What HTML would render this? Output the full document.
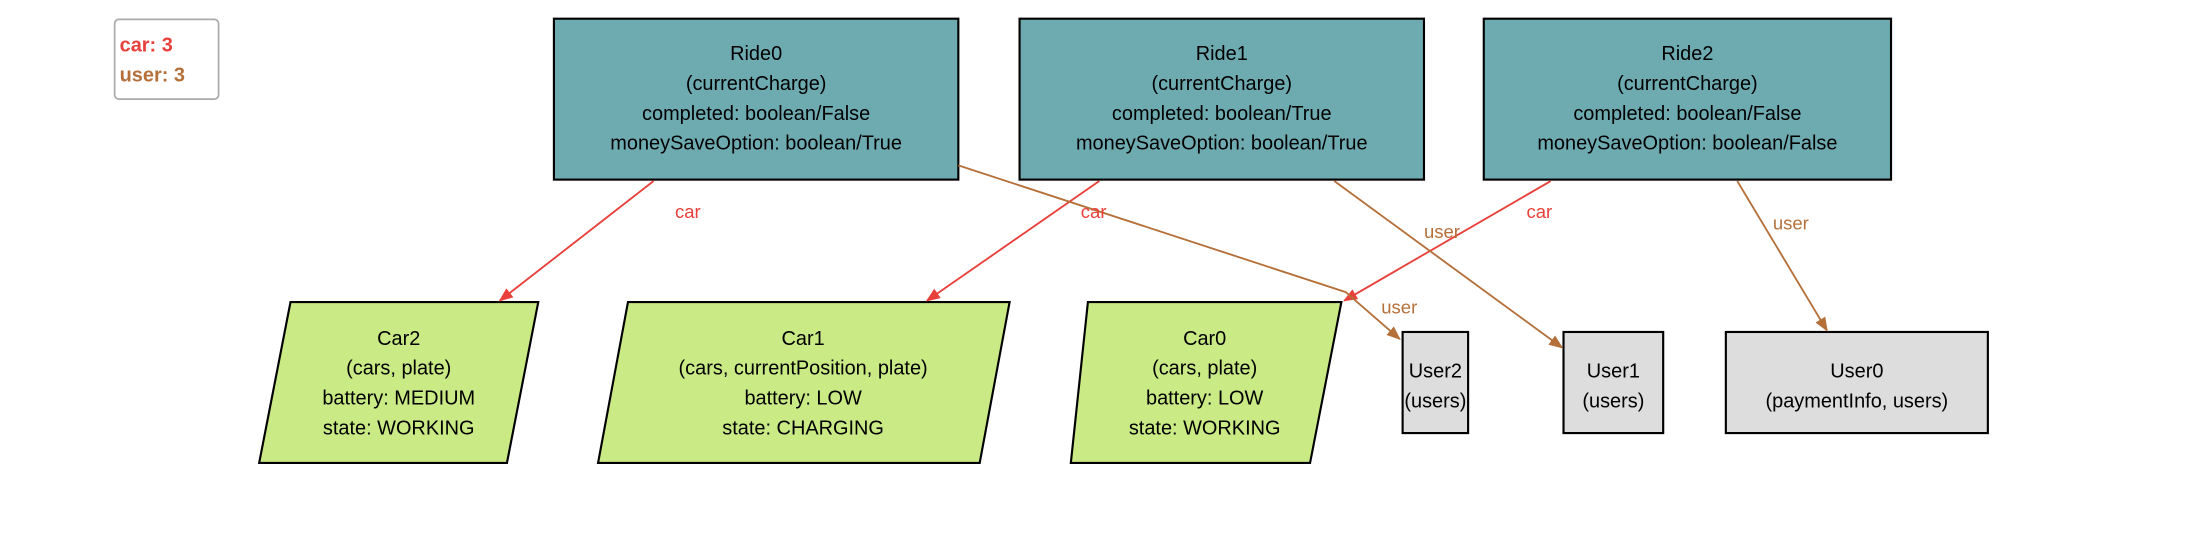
<!DOCTYPE html>
<html><head><meta charset="utf-8"><style>
html,body{margin:0;padding:0;background:#fff;}
svg{display:block;}
text{font-family:"Liberation Sans",sans-serif;font-size:14px;}
</style></head><body>
<svg width="2210" height="560" viewBox="0 0 1552 393" xmlns="http://www.w3.org/2000/svg">
<defs>
<marker id="ar" markerWidth="10" markerHeight="8" refX="9" refY="4" orient="auto" markerUnits="userSpaceOnUse"><path d="M0,0 L10,4 L0,8 z" fill="#e8403a"/></marker>
<marker id="ab" markerWidth="10" markerHeight="8" refX="9" refY="4" orient="auto" markerUnits="userSpaceOnUse"><path d="M0,0 L10,4 L0,8 z" fill="#b5703a"/></marker>
</defs>
<rect x="80.5" y="13.5" width="73" height="56" rx="3" fill="#fff" stroke="#aaa" stroke-width="1.2"/>
<text x="84" y="36" fill="#e8403a" font-weight="bold" style="font-size:14px">car: 3</text>
<text x="84" y="57" fill="#b5703a" font-weight="bold" style="font-size:14px">user: 3</text>

<g stroke="#000" stroke-width="1.5">
<rect x="389" y="13" width="284" height="113" fill="#6eabb1"/>
<rect x="716" y="13" width="284" height="113" fill="#6eabb1"/>
<rect x="1042" y="13" width="286" height="113" fill="#6eabb1"/>
<polygon points="204,212 378,212 356,325 182,325" fill="#c9ea85"/>
<polygon points="441,212 709,212 688,325 420,325" fill="#c9ea85"/>
<polygon points="764,212 942,212 920,325 752,325" fill="#c9ea85"/>
<rect x="985" y="233" width="46" height="71" fill="#dddddd"/>
<rect x="1098" y="233" width="70" height="71" fill="#dddddd"/>
<rect x="1212" y="233" width="184" height="71" fill="#dddddd"/>
</g>

<g fill="none" stroke-width="1.3">
<line x1="459" y1="127" x2="351" y2="211" stroke="#e8403a" marker-end="url(#ar)"/>
<line x1="772" y1="127" x2="651" y2="211" stroke="#e8403a" marker-end="url(#ar)"/>
<line x1="1089" y1="127" x2="944" y2="211" stroke="#e8403a" marker-end="url(#ar)"/>
<polyline points="673,116 945,205 983,238" stroke="#b5703a" marker-end="url(#ab)"/>
<line x1="937" y1="127" x2="1097" y2="244" stroke="#b5703a" marker-end="url(#ab)"/>
<line x1="1220" y1="127" x2="1283" y2="232" stroke="#b5703a" marker-end="url(#ab)"/>
</g>
<g style="font-size:13px">
<text x="474" y="153" fill="#e8403a" style="font-size:13px">car</text>
<text x="759" y="153" fill="#e8403a" style="font-size:13px">car</text>
<text x="1072" y="153" fill="#e8403a" style="font-size:13px">car</text>
<text x="1000" y="167" fill="#b5703a" style="font-size:13px">user</text>
<text x="1245" y="161" fill="#b5703a" style="font-size:13px">user</text>
<text x="970" y="220" fill="#b5703a" style="font-size:13px">user</text>
</g>

<g text-anchor="middle" fill="#000">
<text x="531" y="42">Ride0</text><text x="531" y="63">(currentCharge)</text><text x="531" y="84">completed: boolean/False</text><text x="531" y="105">moneySaveOption: boolean/True</text>
<text x="858" y="42">Ride1</text><text x="858" y="63">(currentCharge)</text><text x="858" y="84">completed: boolean/True</text><text x="858" y="105">moneySaveOption: boolean/True</text>
<text x="1185" y="42">Ride2</text><text x="1185" y="63">(currentCharge)</text><text x="1185" y="84">completed: boolean/False</text><text x="1185" y="105">moneySaveOption: boolean/False</text>
<text x="280" y="242">Car2</text><text x="280" y="263">(cars, plate)</text><text x="280" y="284">battery: MEDIUM</text><text x="280" y="305">state: WORKING</text>
<text x="564" y="242">Car1</text><text x="564" y="263">(cars, currentPosition, plate)</text><text x="564" y="284">battery: LOW</text><text x="564" y="305">state: CHARGING</text>
<text x="846" y="242">Car0</text><text x="846" y="263">(cars, plate)</text><text x="846" y="284">battery: LOW</text><text x="846" y="305">state: WORKING</text>
<text x="1008" y="265">User2</text><text x="1008" y="286">(users)</text>
<text x="1133" y="265">User1</text><text x="1133" y="286">(users)</text>
<text x="1304" y="265">User0</text><text x="1304" y="286">(paymentInfo, users)</text>
</g>
</svg>
</body></html>
